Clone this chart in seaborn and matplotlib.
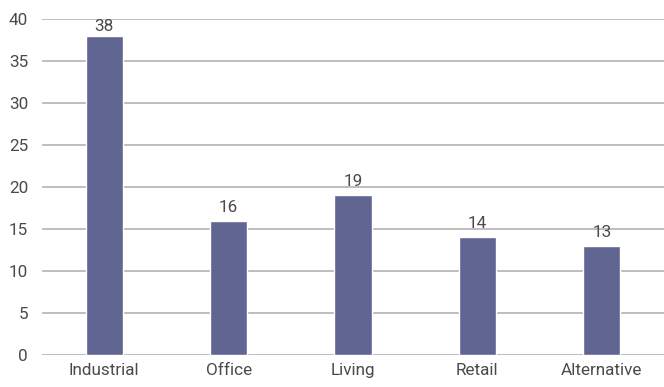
import matplotlib
matplotlib.use("Agg")
import matplotlib.pyplot as plt
import seaborn as sns
import pandas as pd

categories = ["Industrial", "Office", "Living", "Retail", "Alternative"]
values = [38, 16, 19, 14, 13]

sns.set_style("white")
plt.rcParams['font.family'] = ['Roboto', 'DejaVu Sans']

df = pd.DataFrame({"cat": categories, "val": values})

fig = plt.figure(figsize=(6.64, 3.87), dpi=100)
ax = fig.add_axes([42/664, 1 - 355/387, (664 - 42)/664, (355 - 19)/387])
sns.barplot(data=df, x="cat", y="val", color="#606592", width=0.3, saturation=1, ax=ax, zorder=3)

ymax = 40
ax.set_ylim(0, ymax)
ax.set_yticks(range(0, 41, 5))
ax.set_xlim(-0.5, 4.5)
ax.yaxis.grid(True, color="#b3b3b3", linewidth=1.2, zorder=0)
ax.set_axisbelow(True)
for s in ax.spines.values():
    s.set_visible(False)
ax.set_xlabel("")
ax.set_ylabel("")
txt_color = "#4a4a4a"
fs = 12.3
ax.tick_params(axis="both", length=0, labelsize=fs, colors=txt_color, pad=6)
ax.tick_params(axis="y", pad=10)

# labels above bars, kept inside the plot area
px_per_unit = (355 - 19) / ymax
label_h = 13  # px
gap = 6  # px
for i, v in enumerate(values):
    if v * px_per_unit + gap + label_h > ymax * px_per_unit:
        ax.text(i, ymax, str(v), ha="center", va="top", fontsize=fs, color=txt_color)
    else:
        ax.annotate(str(v), (i, v), xytext=(0, gap * 0.72), textcoords="offset points",
                    ha="center", va="bottom", fontsize=fs, color=txt_color)

fig.savefig("out.png", dpi=100)
